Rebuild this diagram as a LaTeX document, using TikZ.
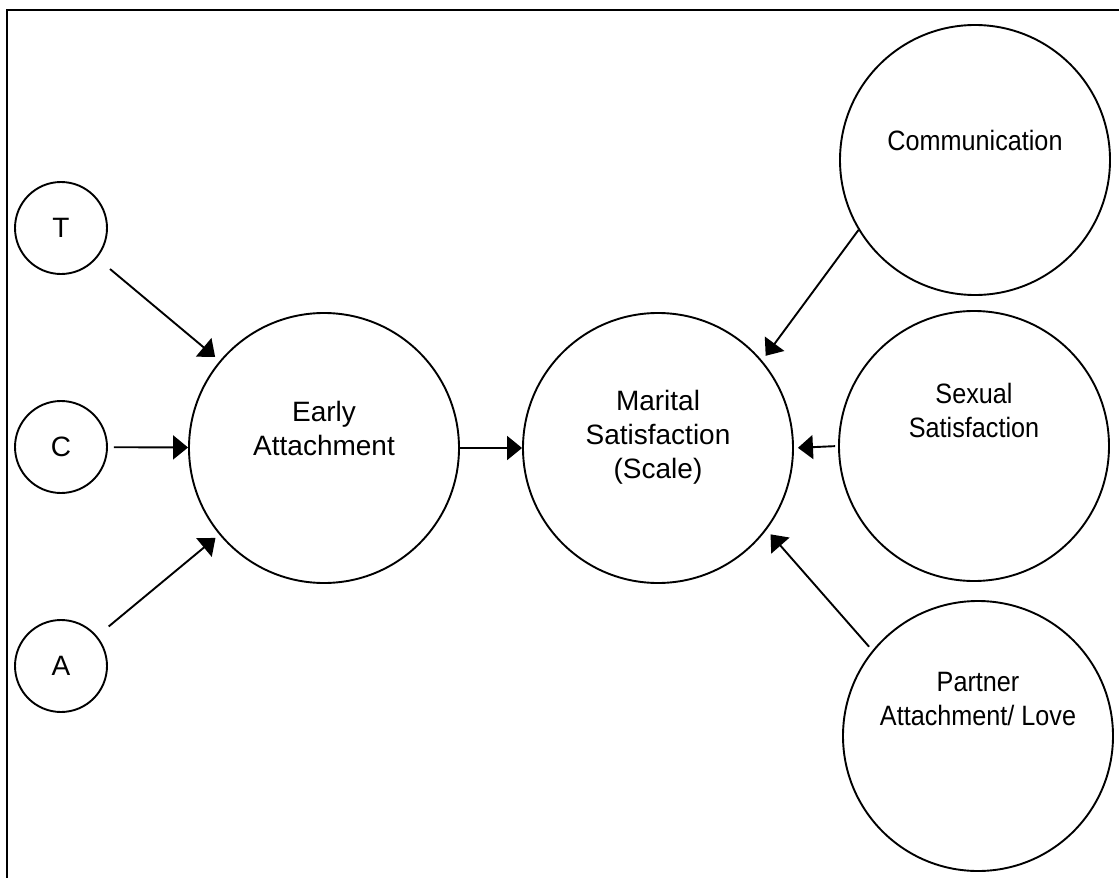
\documentclass[tikz,border=0pt]{standalone}
\usepackage{fontspec}
\setmainfont{Liberation Sans}
\newfontfamily\narrowfont[FakeStretch=0.9]{Liberation Sans}
\usetikzlibrary{arrows.meta}

\begin{document}
\begin{tikzpicture}[x=1pt,y=-1pt,
 font=\fontsize{28}{34}\selectfont,
 big/.style={circle,draw,line width=1.9pt,minimum size=270pt,inner sep=0pt},
 small/.style={circle,draw,line width=1.9pt,minimum size=92pt,inner sep=0pt},
 txt/.style={align=center},
 arr/.style={-{Triangle[length=15pt,width=24pt]},line width=1.9pt}]
 \useasboundingbox (0,0) rectangle (1119,878);
 \draw[line width=2.6pt] (7,890) -- (7,10) -- (1130,10);
 \node[small] (t) at (61,228) {T};
 \node[small] (c) at (61,447) {C};
 \node[small] (a) at (61,666) {A};
 \node[big,label={[txt,yshift=20pt]center:{Early\\Attachment}}] (early) at (324,448) {};
 \node[big,label={[txt,yshift=11pt]center:{Marital\\Satisfaction\\(Scale)}}] (mar) at (658,448) {};
 \node[big,label={[txt,yshift=20pt,font=\fontsize{28}{34}\narrowfont]center:{Communication}}] (comm) at (975,160) {};
 \node[big,label={[txt,yshift=36pt,font=\fontsize{28}{34}\narrowfont]center:{Sexual\\Satisfaction}}] (sex) at (974,446) {};
 \node[big,label={[txt,yshift=37pt,font=\fontsize{28}{34}\narrowfont]center:{Partner\\Attachment/ Love}}] (love) at (978,736) {};
 \draw[arr,shorten <=17pt,shorten >=6pt] (t) -- (early);
 \draw[arr,shorten <=6pt] (c) -- (early);
 \draw[arr,shorten <=15pt,shorten >=5pt] (a) -- (early);
 \draw[arr] (early) -- (mar);
 \draw[arr,shorten >=6pt] (comm.211) -- (mar.40);
 \draw[arr,shorten <=3pt,shorten >=4pt] (sex.west) -- (mar.east);
 \draw[arr,shorten <=5pt,shorten >=6pt] (love.141) -- (mar.323);
\end{tikzpicture}
\end{document}
